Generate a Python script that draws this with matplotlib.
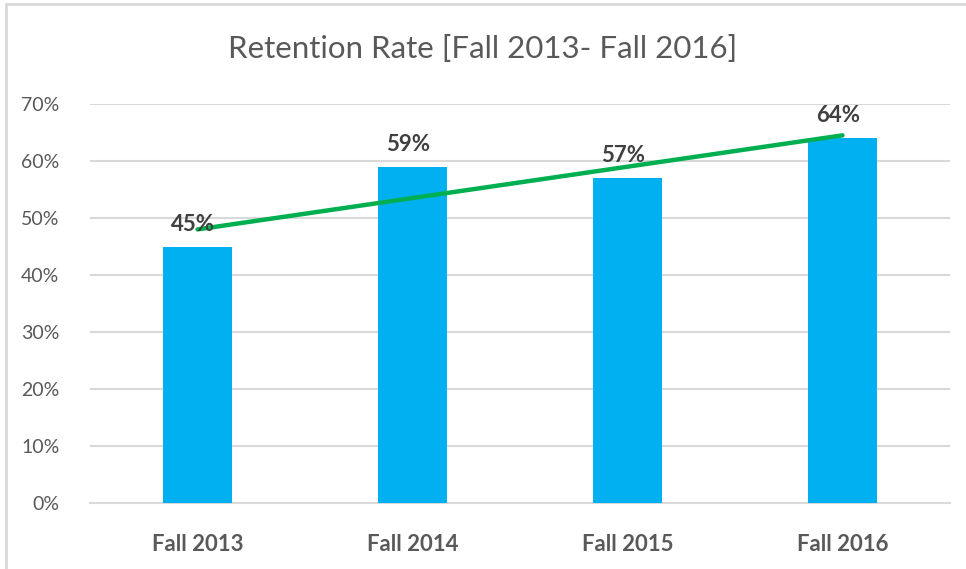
import matplotlib
matplotlib.use("Agg")
import matplotlib.pyplot as plt
import numpy as np
from matplotlib.patches import Rectangle

categories = ["Fall 2013", "Fall 2014", "Fall 2015", "Fall 2016"]
retention = [0.45, 0.59, 0.57, 0.64]
yticks = [0.0, 0.1, 0.2, 0.3, 0.4, 0.5, 0.6, 0.7]
title = "Retention Rate [Fall 2013- Fall 2016]"

plt.rcParams['font.family'] = ['Lato', 'DejaVu Sans']

fig = plt.figure(figsize=(9.66, 5.69), dpi=100)
W, H = 966, 569
ax = fig.add_axes([90 / W, 1 - 503 / H, 860 / W, (503 - 104) / H])

x = np.arange(len(categories))
ax.bar(x, retention, width=0.32, color="#00B0F0", zorder=3)

# linear trendline
coef = np.polyfit(x, retention, 1)
ax.plot(x, np.polyval(coef, x), color="#00B050", linewidth=3.2, solid_capstyle="round", zorder=4)

for xi, v in zip(x, retention):
    ax.text(xi - 0.02, v + 0.021, f"{v*100:.0f}%", ha="center", va="bottom",
            fontsize=16, fontweight="bold", color="#404040", zorder=5)

ax.set_xlim(-0.5, len(categories) - 0.5)
ax.set_ylim(0, 0.7)
ax.set_yticks(yticks)
ax.set_yticklabels([f"{t*100:.0f}%" for t in yticks], fontsize=14, color="#595959")
ax.set_xticks(x)
ax.set_xticklabels(categories, fontsize=16, fontweight="bold", color="#595959")
ax.tick_params(axis="both", length=0)
ax.tick_params(axis="x", pad=22)
ax.tick_params(axis="y", pad=22)
ax.yaxis.grid(True, color="#D9D9D9", linewidth=1.5, zorder=0)
for s in ["top", "right", "left"]:
    ax.spines[s].set_visible(False)
ax.spines["bottom"].set_color("#D9D9D9")
ax.spines["bottom"].set_linewidth(1.5)

fig.text(0.5, 1 - 49 / H, title, ha="center", va="center", fontsize=22.5, color="#595959")

# chart frame
fig.patches.append(Rectangle((6 / W, -0.1), 1.2, 1 - 4 / H + 0.1, transform=fig.transFigure,
                             fill=False, edgecolor="#D9D9D9", linewidth=2))

fig.savefig("out.png", dpi=100)
